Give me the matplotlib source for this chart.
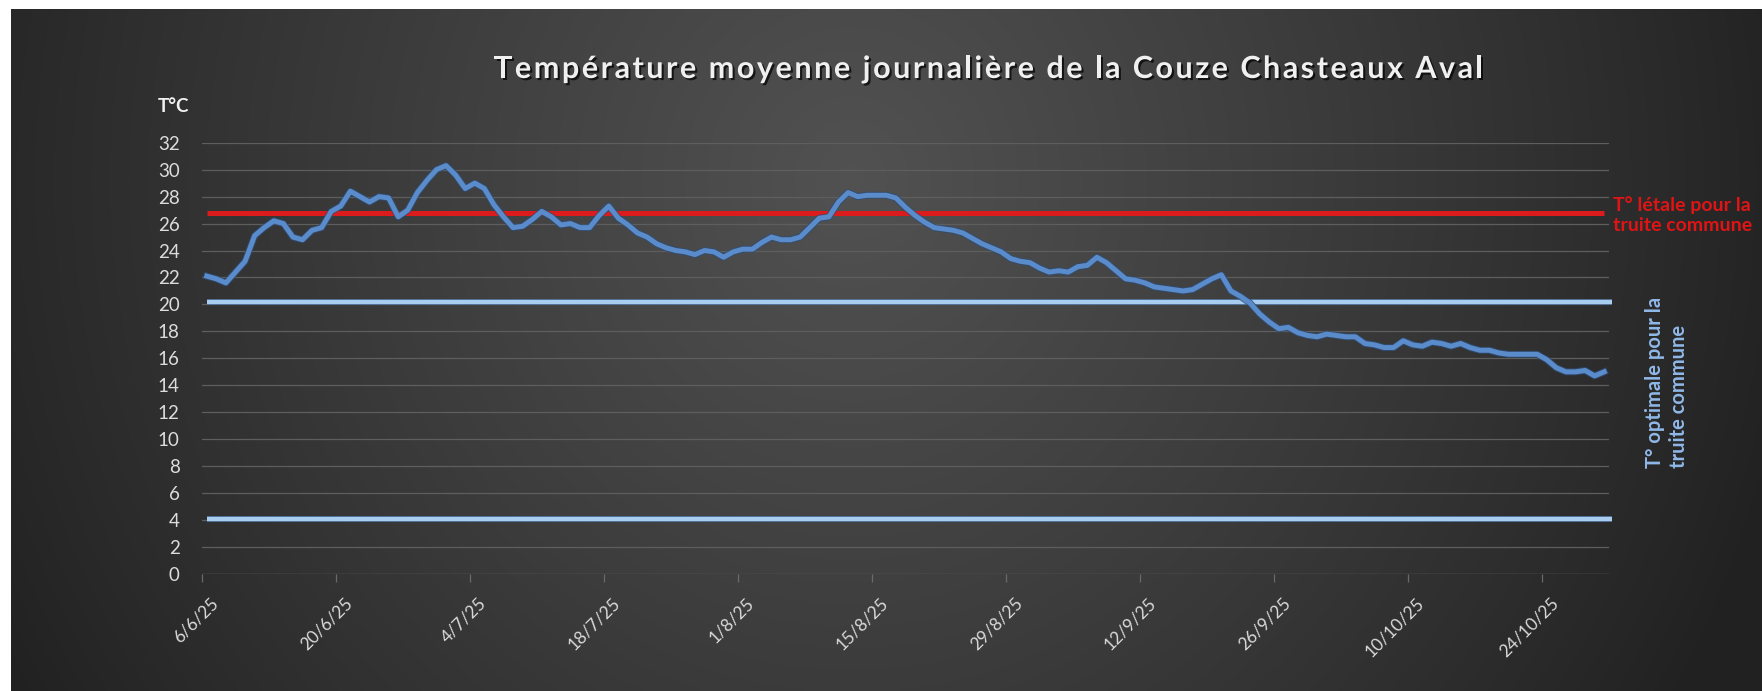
import numpy as np
import pandas as pd
import matplotlib
matplotlib.use("Agg")
import matplotlib.pyplot as plt
import matplotlib.dates as mdates
import matplotlib.patheffects as pe
from matplotlib.font_manager import FontProperties
from matplotlib.transforms import ScaledTranslation

# Daily mean temperature, 6/6/25 -> 30/10/25
temp = [
    22.1, 21.9, 21.6, 22.4, 23.2, 25.1, 25.7, 26.2, 26.0, 25.0,
    24.8, 25.5, 25.7, 26.9, 27.3, 28.4, 28.0, 27.6, 28.0, 27.9,
    26.5, 27.0, 28.3, 29.2, 30.0, 30.3, 29.6, 28.6, 29.0, 28.6,
    27.4, 26.5, 25.7, 25.8, 26.3, 26.9, 26.5, 25.9, 26.0, 25.7,
    25.7, 26.6, 27.3, 26.4, 25.9, 25.3, 25.0, 24.5, 24.2, 24.0,
    23.9, 23.7, 24.0, 23.9, 23.5, 23.9, 24.1, 24.1, 24.6, 25.0,
    24.8, 24.8, 25.0, 25.7, 26.4, 26.5, 27.6, 28.3, 28.0, 28.1,
    28.1, 28.1, 27.9, 27.2, 26.6, 26.1, 25.7, 25.6, 25.5, 25.3,
    24.9, 24.5, 24.2, 23.9, 23.4, 23.2, 23.1, 22.7, 22.4, 22.5,
    22.4, 22.8, 22.9, 23.5, 23.1, 22.5, 21.9, 21.8, 21.6, 21.3,
    21.2, 21.1, 21.0, 21.1, 21.5, 21.9, 22.2, 21.0, 20.6, 20.1,
    19.3, 18.7, 18.2, 18.3, 17.9, 17.7, 17.6, 17.8, 17.7, 17.6,
    17.6, 17.1, 17.0, 16.8, 16.8, 17.3, 17.0, 16.9, 17.2, 17.1,
    16.9, 17.1, 16.8, 16.6, 16.6, 16.4, 16.3, 16.3, 16.3, 16.3,
    15.9, 15.3, 15.0, 15.0, 15.1, 14.7, 15.0,
]
start_date = "2025-06-06"
lethal_temp = 26.75
optimal_low = 4.1
optimal_high = 20.2
y_ticks = list(range(0, 33, 2))
tick_every_days = 14

title = "Température moyenne journalière de la Couze Chasteaux Aval"
lethal_label = "T° létale pour la\ntruite commune"
optimal_label = "T° optimale pour la\ntruite commune"

dates = pd.date_range(start_date, periods=len(temp), freq="D")
x = mdates.date2num(dates)
half = 0.5

W, H = 1762, 691
fig = plt.figure(figsize=(W / 100, H / 100), dpi=100, facecolor="white")


def spaced_title(text, left_px, right_px, baseline_px, **kw):
    """Write text letter by letter, spread evenly between two pixel columns."""
    renderer = fig.canvas.get_renderer()
    prop = FontProperties(family=kw.pop("family"), weight=kw.pop("weight"), size=kw.pop("size"))
    widths = [renderer.get_text_width_height_descent(ch, prop, ismath=False)[0] for ch in text]
    gap = (right_px - left_px - sum(widths)) / (len(text) - 1)
    xpos = left_px
    for ch, w in zip(text, widths):
        fig.text(xpos / W, 1 - baseline_px / H, ch, fontproperties=prop,
                 ha="left", va="baseline", **kw)
        xpos += w + gap


# dark radial gradient panel behind the chart
bg = fig.add_axes([11 / W, 0, 1 - 11 / W, 1 - 9 / H], zorder=-2)
u, v = np.meshgrid(np.linspace(0, 1, 600), np.linspace(0, 1, 240))
r = np.sqrt(((u - 0.48) / 0.55) ** 2 + ((v - 0.25) / 1.5) ** 2)
shade = 0.13 + 0.19 * np.clip(1 - r, 0, 1) ** 0.9
bg.imshow(np.dstack([shade] * 3), aspect="auto", extent=(0, 1, 0, 1))
bg.set_axis_off()

ax = fig.add_axes([202 / W, 1 - 574 / H, (1609 - 202) / W, (574 - 142.7) / H])
ax.set_facecolor("none")
for s in ax.spines.values():
    s.set_visible(False)

ax.set_xlim(x[0] - half, x[-1] + half)
ax.set_ylim(0, 32)
ax.set_yticks(y_ticks)
ax.yaxis.grid(True, color="#5e5e5e", lw=0.9)
ax.set_axisbelow(True)
ax.axhline(0, color="#5e5e5e", lw=0.9)

ticks = x[::tick_every_days] - half
ax.set_xticks(ticks)
ax.set_xticklabels([f"{d.day}/{d.month}/{d.strftime('%y')}" for d in dates[::tick_every_days]])
ax.tick_params(axis="x", colors="#6a6a6a", length=6, width=0.9, pad=9,
               labelcolor="#dadada", labelsize=12.5)
ax.tick_params(axis="y", length=0, pad=16, labelcolor="#dcdcdc", labelsize=13.5)
for lab in ax.get_xticklabels():
    lab.set_rotation(45)
    lab.set_ha("right")
    lab.set_rotation_mode("anchor")
    lab.set_fontfamily("Lato")
    lab.set_transform(lab.get_transform() + ScaledTranslation(0.08, 0, fig.dpi_scale_trans))
for lab in ax.get_yticklabels():
    lab.set_fontfamily("Lato")

# reference lines
ax.plot([x[0], x[-1]], [lethal_temp, lethal_temp], color="#dc1c1c", lw=3.6,
        solid_capstyle="butt", zorder=3)
for level in (optimal_low, optimal_high):
    ax.plot([x[0], x[-1] + 0.8], [level, level], color="#a9cdef", lw=3.0,
            solid_capstyle="butt", clip_on=False, zorder=2,
            path_effects=[pe.Stroke(linewidth=4.2, foreground="#4d6f99"), pe.Normal()])

# temperature series
ax.plot(x, temp, color="#5a8bca", lw=3.6, solid_joinstyle="round", zorder=4,
        path_effects=[pe.Stroke(linewidth=5.0, foreground="#2f4d76", alpha=0.8), pe.Normal()])

spaced_title(title, 494, 1483, 78, family="Lato", weight="bold", size=22,
             color="#f0f0f0",
             path_effects=[pe.withSimplePatchShadow(offset=(1.5, -1.5), shadow_rgbFace="black", alpha=0.7)])
fig.text(174 / W, 1 - 107 / H, "T°C", ha="center", va="center", fontsize=13.5,
         fontweight="bold", color="#f2f2f2", family="Lato")
fig.text(1613 / W, 1 - 215 / H, lethal_label, ha="left", va="center", fontsize=14,
         fontweight="bold", color="#e01414", family="Lato", linespacing=1.2)
fig.text(1667 / W, 1 - 468 / H, optimal_label, ha="center", va="bottom", rotation=90,
         multialignment="left", fontsize=14.5, fontweight="bold", color="#8fb8e8",
         family="Lato", linespacing=1.3)

fig.savefig("out.png", dpi=100, facecolor="white")
